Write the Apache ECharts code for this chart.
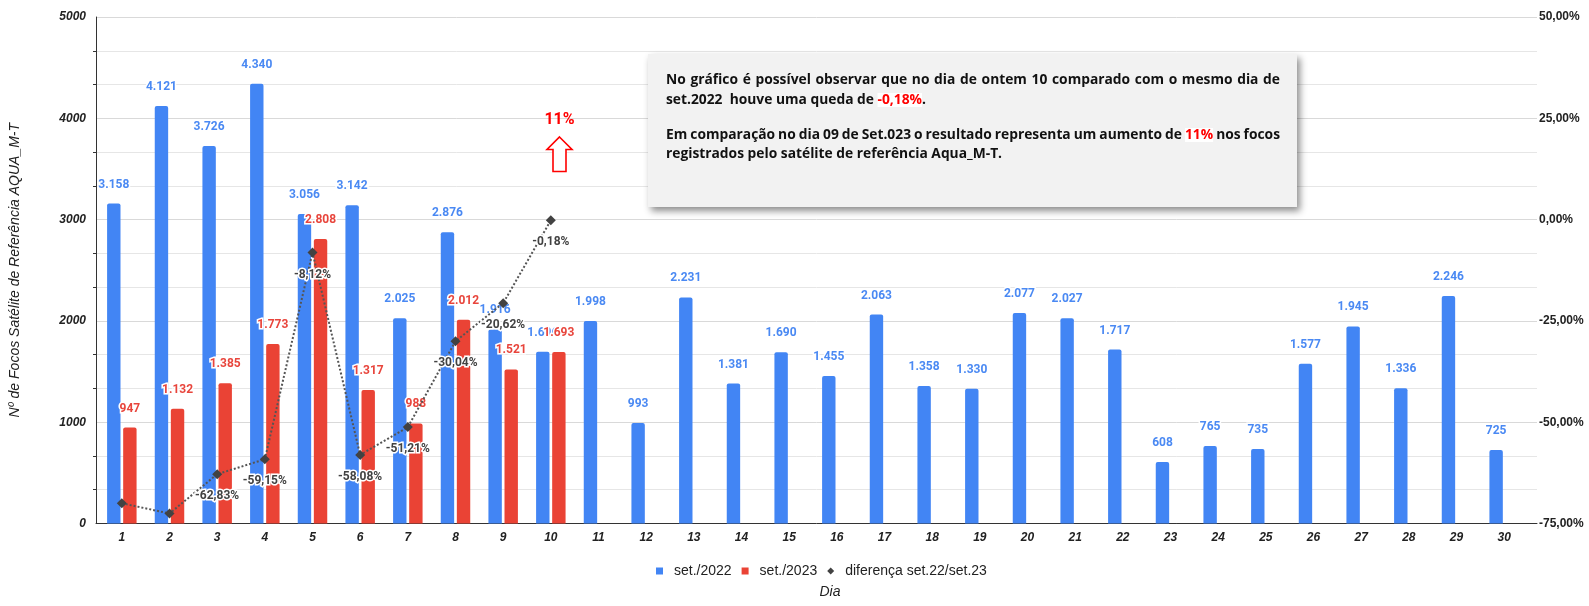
<!DOCTYPE html>
<html>
<head>
<meta charset="utf-8">
<script src="https://cdn.jsdelivr.net/npm/echarts@6/dist/echarts.min.js"></script>
<style>
html,body{margin:0;padding:0;background:#fff;}
#c{width:1589px;height:606px;}
</style>
</head>
<body>
<div id="c"></div>
<script>
const days = ['1','2','3','4','5','6','7','8','9','10','11','12','13','14','15','16','17','18','19','20','21','22','23','24','25','26','27','28','29','30'];
const set2022 = [3158,4121,3726,4340,3056,3142,2025,2876,1916,1696,1998,993,2231,1381,1690,1455,2063,1358,1330,2077,2027,1717,608,765,735,1577,1945,1336,2246,725];
const set2023 = [947,1132,1385,1773,2808,1317,988,2012,1521,1693];
const diferenca = [-70.01,-72.53,-62.83,-59.15,-8.12,-58.08,-51.21,-30.04,-20.62,-0.18];
const leftAxis = {min:0, max:5000, interval:1000};
const rightAxis = {min:-75, max:50, interval:25};
const seriesNames = ['set./2022','set./2023','diferença set.22/set.23'];
const noteLines = [
  'No gráfico é possível observar que no dia de ontem 10 comparado com o mesmo dia de',
  'set.2022  houve uma queda de {r|-0,18%}.',
  'Em comparação no dia 09 de Set.023 o resultado representa um aumento de {r|11%} nos focos',
  'registrados pelo satélite de referência Aqua_M-T.'
];
const noteJustify = [true, false, true, false];
const highlight = '11%';

const fmtInt = v => String(v).replace(/\B(?=(\d{3})+(?!\d))/g, '.');
const fmtPct = v => v.toFixed(2).replace('.', ',') + '%';

const BLUE = '#4285F4', RED = '#EA4335';
const axisFont = {color:'#222', fontWeight:'bold', fontStyle:'italic', fontSize:12, fontFamily:'Liberation Sans, Arial, sans-serif'};
const NOTE_FONT = 'bold 13.8px Open Sans, Noto Sans, sans-serif';

const chart = echarts.init(document.getElementById('c'), null, {renderer:'canvas'});

const noteY = [80, 100, 135, 154];
const noteX0 = 666, noteX1 = 1280;
const graphics = [
  {type:'rect', z:50, shape:{x:648, y:54, width:649, height:153},
   style:{fill:'#f2f2f2', shadowBlur:7, shadowOffsetX:3, shadowOffsetY:4, shadowColor:'rgba(0,0,0,0.45)'}},
  {type:'text', z:51, style:{x:559.5, y:120, text:highlight, fill:'#ff0000', align:'center', verticalAlign:'middle',
     font:'bold 16px Roboto, Arial, sans-serif'}},
  {type:'polygon', z:51, shape:{points:[[559.5,137],[572,149.5],[566,149.5],[566,171.5],[553,171.5],[553,149.5],[547,149.5]]},
   style:{fill:'#fff', stroke:'#ff0000', lineWidth:1.6}},
  {type:'text', z:51, style:{x:830, y:592, text:'Dia', fill:'#222', align:'center', verticalAlign:'middle',
     font:'italic 14px Liberation Sans, Arial, sans-serif'}}
];
const mctx = document.createElement('canvas').getContext('2d');
mctx.font = NOTE_FONT;
const richRed = {r:{fill:'#ff0000', backgroundColor:'#fff', font:NOTE_FONT}};
noteLines.forEach((t, i) => {
  if (!noteJustify[i]) {
    graphics.push({type:'text', z:52, style:{x:noteX0, y:noteY[i], text:t, fill:'#111', verticalAlign:'middle',
      font:NOTE_FONT, rich:richRed}});
    return;
  }
  const words = t.split(' ');
  const plain = words.map(w => w.replace(/^\{r\|(.*)\}$/, '$1'));
  const widths = plain.map(w => mctx.measureText(w).width);
  const total = widths.reduce((a, b) => a + b, 0);
  const gap = (noteX1 - noteX0 - total) / (words.length - 1);
  let x = noteX0;
  words.forEach((w, k) => {
    const red = /^\{r\|/.test(w);
    graphics.push({type:'text', z:52, style:{x:x, y:noteY[i], text:plain[k], fill:red ? '#ff0000' : '#111',
      backgroundColor: red ? '#fff' : null, verticalAlign:'middle', font:NOTE_FONT}});
    x += widths[k] + gap;
  });
});

const option = {
  animation:false,
  backgroundColor:'#fff',
  grid:[
    {left:89, right:52, top:17, bottom:82.5},
    {left:98, right:61, top:17, bottom:82.5}
  ],
  legend:{
    data:[
      {name:seriesNames[0], icon:'rect'},
      {name:seriesNames[1], icon:'rect'},
      {name:seriesNames[2], icon:'diamond'}
    ],
    left:656, top:564, padding:0, itemWidth:7, itemHeight:7, itemGap:10,
    textStyle:{color:'#222', fontSize:14, fontFamily:'Liberation Sans, Arial, sans-serif', padding:[0,0,0,6]}
  },
  xAxis:[
    {gridIndex:0, type:'value', min:0, max:1, axisLine:{show:true, onZero:false, lineStyle:{color:'#333', width:1}},
     axisTick:{show:false}, axisLabel:{show:false}, splitLine:{show:false}},
    {gridIndex:1, type:'category', data:days, axisLine:{show:false}, axisTick:{show:false},
     axisLabel:Object.assign({margin:8}, axisFont), splitLine:{show:false}}
  ],
  yAxis:[
    {gridIndex:0, type:'value', position:'left', min:leftAxis.min, max:leftAxis.max, interval:leftAxis.interval,
     name:'Nº de Focos Satélite de Referência AQUA_M-T', nameLocation:'middle', nameGap:74,
     nameTextStyle:{color:'#222', fontStyle:'italic', fontSize:14, fontFamily:'Liberation Sans, Arial, sans-serif'},
     axisLine:{show:true, lineStyle:{color:'#333', width:1}},
     axisTick:{show:false},
     minorTick:{show:true, splitNumber:3, length:3, lineStyle:{color:'#333'}},
     axisLabel:Object.assign({margin:10, formatter:v => String(v)}, axisFont),
     splitLine:{show:true, lineStyle:{color:'#d9d9d9', width:1}},
     minorSplitLine:{show:true, lineStyle:{color:'#e6e6e6', width:1}}},
    {gridIndex:0, type:'value', position:'right', min:rightAxis.min, max:rightAxis.max, interval:rightAxis.interval,
     axisLine:{show:false}, axisTick:{show:false}, splitLine:{show:false},
     axisLabel:{color:'#222', fontWeight:'bold', fontSize:12, fontFamily:'Liberation Sans, Arial, sans-serif', margin:2,
       formatter:v => fmtPct(v)}},
    {gridIndex:1, type:'value', min:leftAxis.min, max:leftAxis.max, show:false},
    {gridIndex:1, type:'value', min:rightAxis.min, max:rightAxis.max, show:false}
  ],
  series:[
    {name:seriesNames[0], type:'bar', xAxisIndex:1, yAxisIndex:2, data:set2022,
     barWidth:13.4, barGap:'20%', itemStyle:{color:BLUE, borderRadius:[2,2,0,0]},
     label:{show:true, position:'top', distance:13, color:'#4a89f3', fontWeight:'bold', fontSize:12,
       fontFamily:'Roboto, Arial, sans-serif', textBorderColor:'#fff', textBorderWidth:3,
       formatter:p => fmtInt(p.value)}},
    {name:seriesNames[1], type:'bar', xAxisIndex:1, yAxisIndex:2, data:set2023,
     barWidth:13.4, barGap:'20%', itemStyle:{color:RED, borderRadius:[2,2,0,0]},
     label:{show:true, position:'top', distance:13, color:'#e8453c', fontWeight:'bold', fontSize:12,
       fontFamily:'Roboto, Arial, sans-serif', textBorderColor:'#fff', textBorderWidth:3,
       formatter:p => fmtInt(p.value)}},
    {name:seriesNames[2], type:'line', xAxisIndex:1, yAxisIndex:3,
     data:diferenca.map((v, i) => i < 2 ? {value:v, label:{show:false}} : v),
     symbol:'diamond', symbolSize:10, z:5,
     itemStyle:{color:'#424242'},
     lineStyle:{color:'#555', width:2, type:'dotted'},
     label:{show:true, position:'bottom', distance:11, color:'#424242', fontWeight:'bold', fontSize:12,
       fontFamily:'Roboto, Arial, sans-serif', textBorderColor:'#fff', textBorderWidth:3,
       formatter:p => fmtPct(p.value)}}
  ],
  graphic:graphics
};
chart.setOption(option);
</script>
</body>
</html>
